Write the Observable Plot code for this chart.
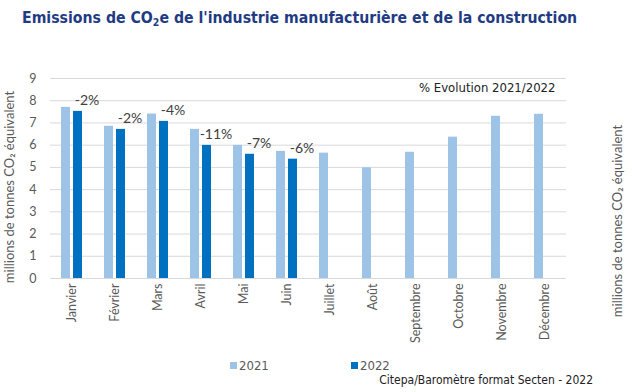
<!DOCTYPE html>
<html>
<head>
<meta charset="utf-8">
<script src="https://cdn.jsdelivr.net/npm/d3@7"></script>
<script src="https://cdn.jsdelivr.net/npm/@observablehq/plot@0.6"></script>
<style>
  html, body { margin: 0; padding: 0; background: #fff; }
  #wrap { position: relative; width: 632px; height: 392px; overflow: hidden; font-family: Lato, sans-serif; }
  #title { position: absolute; left: 22px; top: 7px; font-family: "DejaVu Sans Condensed", "DejaVu Sans", sans-serif; font-weight: bold; font-size: 15.7px; line-height: 22px; color: #1F3B84; white-space: nowrap; }
  #title sub { font-size: 10.5px; vertical-align: -3px; line-height: 0; }
  #chart { position: absolute; left: 0; top: 60px; }
  .ylab { position: absolute; width: 240px; height: 16px; line-height: 16px; text-align: center; font-family: Lato, sans-serif; font-size: 13px; color: #595959; transform: rotate(-90deg); white-space: nowrap; }
  .leg { position: absolute; top: 358px; font-family: "DejaVu Sans Condensed", sans-serif; font-size: 13px; color: #595959; line-height: 16px; white-space: nowrap; }
  .leg i { display: inline-block; width: 7px; height: 7px; margin-right: 2px; vertical-align: 1px; }
  #caption { position: absolute; right: 39px; top: 372px; font-family: "DejaVu Sans Condensed", sans-serif; font-size: 12px; line-height: 16px; color: #222; white-space: nowrap; }
</style>
</head>
<body>
<div id="wrap">
  <div id="title">Emissions de CO<sub>2</sub>e de l'industrie manufacturière et de la construction</div>
  <div id="chart"></div>
  <div class="ylab" style="left:-111px; top:179px;">millions de tonnes CO₂ équivalent</div>
  <div class="ylab" style="left:497px; top:213px;">millions de tonnes CO₂ équivalent</div>
  <div class="leg" style="left:230px;"><i style="background:#9DC3E6"></i>2021</div>
  <div class="leg" style="left:351px;"><i style="background:#0070C0"></i>2022</div>
  <div id="caption">Citepa/Baromètre format Secten - 2022</div>
</div>
<script>
const months = ["Janvier","Février","Mars","Avril","Mai","Juin","Juillet","Août","Septembre","Octobre","Novembre","Décembre"];
const years = ["2021","2022"];
const values2021 = [7.70,6.85,7.40,6.71,5.99,5.72,5.64,4.98,5.68,6.36,7.30,7.39];
const values2022 = [7.52,6.71,7.07,5.99,5.59,5.37];
const evolution = ["-2%","-2%","-4%","-11%","-7%","-6%"];
const yTicks = [0,1,2,3,4,5,6,7,8,9];
const annotation = "% Evolution 2021/2022";
const colors = ["#9DC3E6","#0070C0"];

const rows = [
  ...values2021.map((v, i) => ({month: months[i], year: years[0], value: v})),
  ...values2022.map((v, i) => ({month: months[i], year: years[1], value: v}))
];
const labels = values2022.map((v, i) => ({month: months[i], year: years[1], value: v, label: evolution[i]}));

const chart = Plot.plot({
  width: 632,
  height: 295,
  marginTop: 18,
  marginBottom: 77,
  marginLeft: 48,
  marginRight: 65,
  style: {fontFamily: "Lato, sans-serif", fontSize: "12.5px", color: "#595959", background: "transparent"},
  fx: {domain: months, padding: 0, label: null, axis: "bottom", tickRotate: -90, tickSize: 0, tickPadding: 5},
  x: {domain: years, axis: null, paddingInner: 0.26, paddingOuter: 0.82},
  y: {domain: [0, 9], ticks: yTicks, label: null, tickSize: 0, tickPadding: 14, tickFormat: d3.format("d")},
  color: {domain: years, range: colors},
  marks: [
    Plot.ruleY(yTicks, {stroke: "#D9D9D9", strokeWidth: 1}),
    Plot.barY(rows, {fx: "month", x: "year", y: "value", fill: "year"}),
    Plot.text(labels, {fx: "month", x: "year", y: "value", text: "label", dy: -11, dx: 9, fill: "#404040", fontSize: 14}),
    Plot.text([annotation], {fx: [months[11]], text: d => d, frameAnchor: "top-right", lineAnchor: "middle", dx: -11, dy: 9, fill: "#222", fontSize: 13, fontFamily: "DejaVu Sans Condensed, sans-serif"})
  ]
});
document.getElementById("chart").appendChild(chart);
</script>
</body>
</html>
